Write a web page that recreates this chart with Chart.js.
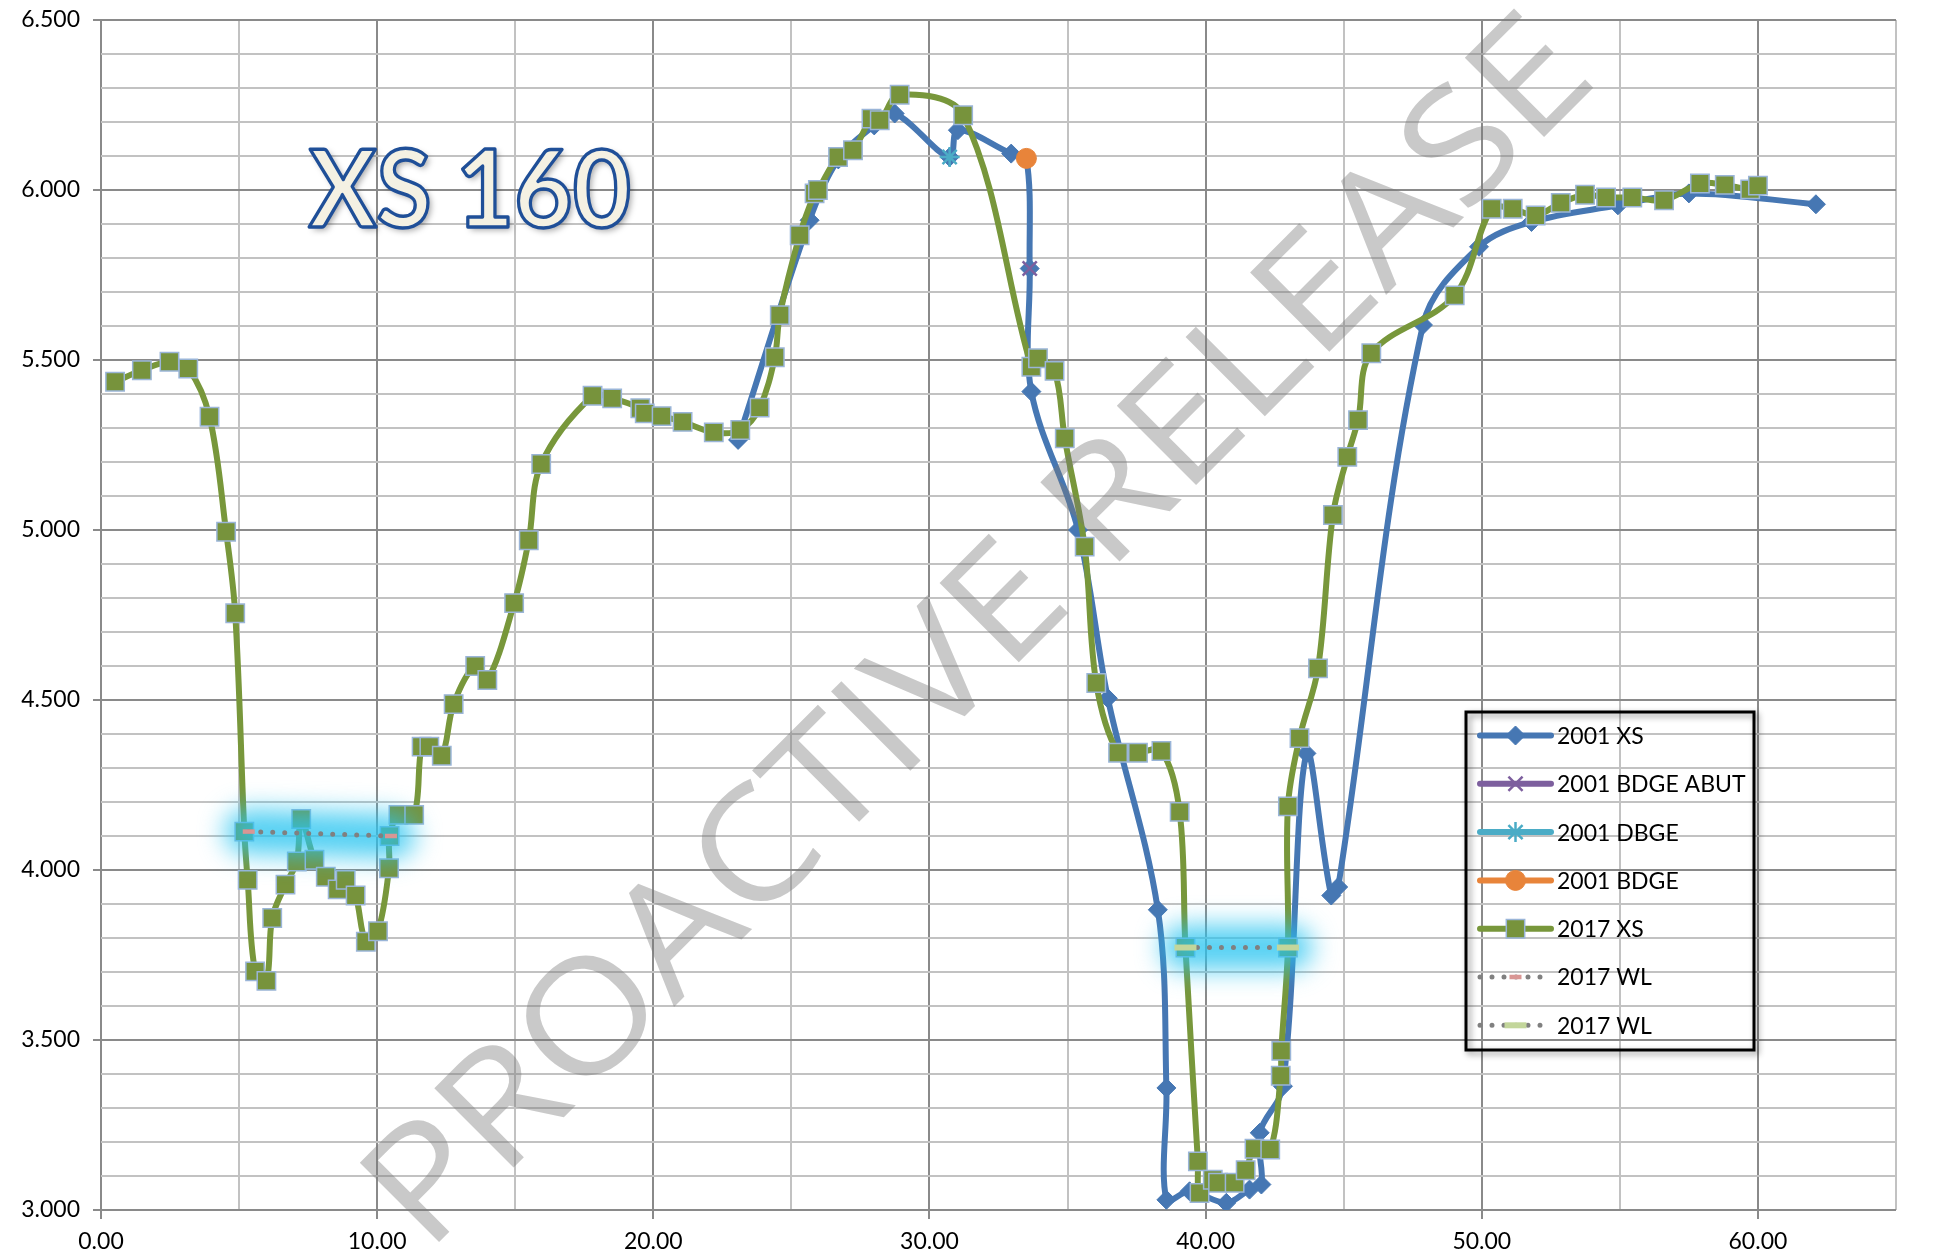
<!DOCTYPE html>
<html>
<head>
<meta charset="utf-8">
<script src="https://cdn.jsdelivr.net/npm/chart.js@4.4.1/dist/chart.umd.min.js"></script>
<style>
  html, body { margin: 0; padding: 0; background: #ffffff; }
  #wrap { width: 1935px; height: 1260px; position: relative; }
</style>
</head>
<body>
<div id="wrap"><canvas id="c" width="1935" height="1260"></canvas></div>
<script>
// ---------------- DATA ----------------
const chartTitle = 'XS 160';
const watermarkText = 'PROACTIVE RELEASE';
const seriesLabels = ['2001 XS', '2001 BDGE ABUT', '2001 DBGE', '2001 BDGE', '2017 XS', '2017 WL', '2017 WL'];

const xs2001X = [23.07, 25.66, 26.7, 28.0, 28.74, 30.73, 31.03, 32.96, 33.51, 33.63, 33.69, 35.38, 36.46, 38.27, 38.58, 38.58, 39.42, 40.75, 41.59, 42.02, 41.96, 42.8, 43.65, 44.55, 44.8, 47.87, 49.9, 51.8, 54.93, 57.5, 62.1];
const xs2001Y = [5.265, 5.911, 6.09, 6.19, 6.225, 6.097, 6.176, 6.107, 6.093, 5.769, 5.407, 5.0, 4.505, 3.883, 3.359, 3.03, 3.055, 3.021, 3.06, 3.075, 3.227, 3.364, 4.343, 3.925, 3.95, 5.603, 5.833, 5.906, 5.955, 5.99, 5.958];

const abut2001X = [33.63];
const abut2001Y = [5.769];
const dbge2001X = [30.73];
const dbge2001Y = [6.097];
const bdge2001X = [33.51];
const bdge2001Y = [6.093];

const xs2017X = [0.51, 1.48, 2.48, 3.16, 3.93, 4.53, 4.86, 5.19, 5.31, 5.58, 5.99, 6.2, 6.68, 7.09, 7.25, 7.73, 8.14, 8.57, 8.86, 9.22, 9.59, 10.03, 10.43, 10.45, 10.77, 11.34, 11.61, 11.89, 12.34, 12.77, 13.55, 13.99, 14.96, 15.49, 15.94, 17.8, 18.51, 19.53, 19.69, 20.3, 21.06, 22.19, 23.15, 23.85, 24.4, 24.58, 25.3, 25.84, 25.96, 26.69, 27.23, 27.9, 28.2, 28.92, 31.22, 33.69, 33.93, 34.53, 34.9, 35.62, 36.04, 36.83, 37.55, 38.4, 39.06, 39.27, 39.72, 39.78, 40.26, 40.45, 41.05, 41.45, 41.77, 42.34, 42.72, 42.74, 42.98, 42.98, 43.4, 44.07, 44.61, 45.13, 45.52, 46.0, 49.02, 50.36, 51.12, 51.95, 52.86, 53.74, 54.5, 55.45, 56.6, 57.9, 58.8, 59.72, 60.0];
const xs2017Y = [5.436, 5.47, 5.495, 5.475, 5.333, 4.995, 4.755, 4.113, 3.971, 3.702, 3.674, 3.859, 3.957, 4.025, 4.15, 4.03, 3.98, 3.943, 3.971, 3.925, 3.789, 3.82, 4.005, 4.1, 4.162, 4.162, 4.363, 4.363, 4.336, 4.488, 4.6, 4.559, 4.785, 4.97, 5.194, 5.395, 5.387, 5.358, 5.343, 5.335, 5.318, 5.287, 5.294, 5.36, 5.508, 5.632, 5.867, 5.99, 6.0, 6.097, 6.117, 6.21, 6.205, 6.28, 6.22, 5.48, 5.505, 5.468, 5.27, 4.951, 4.55, 4.345, 4.345, 4.35, 4.171, 3.772, 3.143, 3.05, 3.089, 3.08, 3.08, 3.117, 3.18, 3.178, 3.395, 3.468, 3.772, 4.187, 4.388, 4.593, 5.044, 5.215, 5.323, 5.52, 5.69, 5.945, 5.945, 5.925, 5.962, 5.986, 5.978, 5.978, 5.97, 6.019, 6.015, 6.002, 6.013];

const wlLeftX = [5.35, 10.5];
const wlLeftY = [4.113, 4.10];
const wlRightX = [39.27, 42.98];
const wlRightY = [3.772, 3.772];

const xMin = 0, xMax = 65, xStep = 5, xLabelEvery = 10;
const yMin = 3.0, yMax = 6.5, yStep = 0.1, yLabelEvery = 0.5;

// ---------------- HELPERS ----------------
const pts = (xa, ya) => xa.map((x, i) => ({ x: x, y: ya[i] }));
const isMajorX = v => Math.abs(v / xLabelEvery - Math.round(v / xLabelEvery)) < 1e-6;
const isMajorY = v => Math.abs(v / yLabelEvery - Math.round(v / yLabelEvery)) < 1e-6;

const BLUE = '#4677b3', PURPLE = '#7d5f9e', TEAL = '#4bacc6', ORANGE = '#e8843a', GREEN = '#78973b';
const SQ_BORDER = '#9ab5d8', DOT_GRAY = '#808080', PINK = '#d99694', PALE = '#c3d69b';
const MAJOR = '#8a8a8a', MINOR = '#c2c2c2';
const FONT = 'Lato, "Open Sans", sans-serif';

const datasets = [
  { label: seriesLabels[0], data: pts(xs2001X, xs2001Y), borderColor: BLUE, backgroundColor: BLUE, borderWidth: 6,
    pointStyle: 'rectRot', pointRadius: 9.5, pointBackgroundColor: BLUE, pointBorderColor: BLUE, pointBorderWidth: 1, order: 0 },
  { label: seriesLabels[1], data: pts(abut2001X, abut2001Y), borderColor: PURPLE, backgroundColor: PURPLE, borderWidth: 6,
    pointStyle: 'crossRot', pointRadius: 10, pointBorderColor: PURPLE, pointBorderWidth: 2.5, order: -1 },
  { label: seriesLabels[2], data: pts(dbge2001X, dbge2001Y), borderColor: TEAL, backgroundColor: TEAL, borderWidth: 6,
    pointStyle: 'star', pointRadius: 10, pointBorderColor: TEAL, pointBorderWidth: 2.5, order: -2 },
  { label: seriesLabels[3], data: pts(bdge2001X, bdge2001Y), borderColor: ORANGE, backgroundColor: ORANGE, borderWidth: 6,
    pointStyle: 'circle', pointRadius: 10, pointBackgroundColor: ORANGE, pointBorderColor: ORANGE, pointBorderWidth: 1, order: -3 },
  { label: seriesLabels[4], data: pts(xs2017X, xs2017Y), borderColor: GREEN, backgroundColor: GREEN, borderWidth: 6,
    pointStyle: 'rect', pointRadius: 13, pointBackgroundColor: '#77933c', pointBorderColor: SQ_BORDER, pointBorderWidth: 1.5, order: -4 },
  { label: seriesLabels[5], data: pts(wlLeftX, wlLeftY), borderColor: DOT_GRAY, borderWidth: 5, borderDash: [0, 12], borderCapStyle: 'round',
    tension: 0, pointStyle: 'line', pointRadius: 6, pointBorderColor: PINK, pointBorderWidth: 4.5, order: -5 },
  { label: seriesLabels[6], data: pts(wlRightX, wlRightY), borderColor: DOT_GRAY, borderWidth: 5, borderDash: [0, 12], borderCapStyle: 'round',
    tension: 0, pointStyle: 'line', pointRadius: 11, pointBorderColor: PALE, pointBorderWidth: 6, order: -6 }
];
datasets.forEach(d => { d.showLine = true; if (d.tension === undefined) d.tension = 0.35; d.fill = false; d.pointHoverRadius = d.pointRadius; });

const glowIndices = [5, 6];

// ---------------- PLUGINS ----------------
const glowPlugin = {
  id: 'wlGlow',
  beforeDatasetDraw(chart, args) {
    if (!glowIndices.includes(args.index)) return;
    const meta = chart.getDatasetMeta(args.index);
    const p = meta.data;
    if (!p.length) return;
    const ctx = chart.ctx;
    ctx.save();
    ctx.filter = 'blur(13px)';
    ctx.strokeStyle = 'rgba(40,196,240,0.8)';
    ctx.lineWidth = 44;
    ctx.lineCap = 'round';
    ctx.beginPath();
    ctx.moveTo(p[0].x - 2, p[0].y);
    ctx.lineTo(p[p.length - 1].x + 2, p[p.length - 1].y);
    ctx.stroke();
    ctx.restore();
  }
};

function drawWatermark(ctx) {
  ctx.save();
  const size = 157;
  ctx.font = `${size}px "Open Sans", sans-serif`;
  const w = ctx.measureText(watermarkText).width;
  const targetW = 1660;
  ctx.translate(427, 1254);
  ctx.rotate(-Math.PI / 4);
  ctx.scale(targetW / w, 1);
  ctx.fillStyle = 'rgba(120,120,120,0.40)';
  ctx.textAlign = 'left';
  ctx.textBaseline = 'alphabetic';
  ctx.fillText(watermarkText, 0, 0);
  ctx.restore();
}

function drawTitle(ctx) {
  ctx.save();
  const size = 108;
  ctx.font = `bold ${size}px Lato, sans-serif`;
  const w = ctx.measureText(chartTitle).width;
  const targetW = 322;
  ctx.translate(309, 227);
  ctx.scale(targetW / w, 1);
  ctx.textAlign = 'left';
  ctx.textBaseline = 'alphabetic';
  ctx.shadowColor = 'rgba(0,0,0,0.35)';
  ctx.shadowBlur = 6;
  ctx.shadowOffsetX = 3;
  ctx.shadowOffsetY = 3;
  ctx.fillStyle = '#f4f1e3';
  ctx.fillText(chartTitle, 0, 0);
  ctx.shadowColor = 'transparent';
  ctx.lineWidth = 3.5;
  ctx.lineJoin = 'round';
  ctx.strokeStyle = '#1f4f98';
  ctx.strokeText(chartTitle, 0, 0);
  ctx.restore();
}

function drawLegend(chart) {
  const ctx = chart.ctx;
  const box = { x: 1466, y: 712, w: 288, h: 338 };
  ctx.save();
  ctx.shadowColor = 'rgba(0,0,0,0.45)';
  ctx.shadowBlur = 6;
  ctx.shadowOffsetX = 3;
  ctx.shadowOffsetY = 3;
  ctx.strokeStyle = '#000';
  ctx.lineWidth = 3;
  ctx.strokeRect(box.x, box.y, box.w, box.h);
  ctx.restore();

  const x0 = 1480, x1 = 1551, xm = (x0 + x1) / 2, tx = 1557;
  const y0 = 735.5, dy = 48.3;
  chart.data.datasets.forEach((ds, i) => {
    const y = y0 + i * dy;
    ctx.save();
    ctx.strokeStyle = ds.borderColor;
    ctx.lineWidth = ds.borderWidth;
    ctx.lineCap = 'round';
    if (ds.borderDash) ctx.setLineDash(ds.borderDash);
    ctx.beginPath();
    ctx.moveTo(x0, y);
    ctx.lineTo(x1, y);
    ctx.stroke();
    ctx.setLineDash([]);
    ctx.fillStyle = ds.pointBackgroundColor || ds.borderColor;
    ctx.strokeStyle = ds.pointBorderColor || ds.borderColor;
    ctx.lineWidth = ds.pointBorderWidth;
    ctx.lineCap = 'butt';
    Chart.helpers.drawPoint(ctx, { pointStyle: ds.pointStyle, radius: ds.pointRadius, rotation: 0, borderWidth: ds.pointBorderWidth }, xm, y);
    ctx.restore();
    ctx.save();
    ctx.fillStyle = '#000';
    ctx.font = `23px ${FONT}`;
    ctx.textAlign = 'left';
    ctx.textBaseline = 'middle';
    ctx.fillText(ds.label, tx, y + 1);
    ctx.restore();
  });
}

const decoPlugin = {
  id: 'deco',
  afterDatasetsDraw(chart) {
    const ctx = chart.ctx;
    drawWatermark(ctx);
    drawTitle(ctx);
    drawLegend(chart);
  }
};

// ---------------- CHART ----------------
new Chart(document.getElementById('c'), {
  type: 'scatter',
  data: { datasets: datasets },
  options: {
    responsive: false,
    animation: false,
    devicePixelRatio: 1,
    layout: { padding: { top: 20, right: 39, left: 0, bottom: 0 } },
    plugins: { legend: { display: false }, tooltip: { enabled: false }, title: { display: false } },
    elements: { line: { capBezierPoints: true } },
    scales: {
      x: {
        type: 'linear', min: xMin, max: xMax,
        afterFit: s => { s.height = 50; s.paddingLeft = 0; s.paddingRight = 0; },
        border: { display: false },
        grid: {
          color: c => isMajorX(c.tick.value) ? MAJOR : MINOR,
          lineWidth: 2,
          tickLength: 9,
          tickColor: c => isMajorX(c.tick.value) ? MAJOR : 'rgba(0,0,0,0)',
          tickWidth: 2
        },
        ticks: {
          stepSize: xStep, autoSkip: false, maxRotation: 0, padding: 9,
          color: '#000', font: { family: FONT, size: 23 },
          callback: v => isMajorX(v) ? Number(v).toFixed(2) : ''
        }
      },
      y: {
        type: 'linear', min: yMin, max: yMax,
        afterFit: s => { s.width = 101; s.paddingTop = 0; s.paddingBottom = 0; },
        border: { display: false },
        grid: {
          color: c => isMajorY(c.tick.value) ? MAJOR : MINOR,
          lineWidth: 2,
          tickLength: 8,
          tickColor: c => isMajorY(c.tick.value) ? MAJOR : 'rgba(0,0,0,0)',
          tickWidth: 2
        },
        ticks: {
          stepSize: yStep, autoSkip: false, padding: 13,
          color: '#000', font: { family: FONT, size: 23 },
          callback: v => isMajorY(v) ? Number(v).toFixed(3) : ''
        }
      }
    }
  },
  plugins: [glowPlugin, decoPlugin]
});
</script>
</body>
</html>
